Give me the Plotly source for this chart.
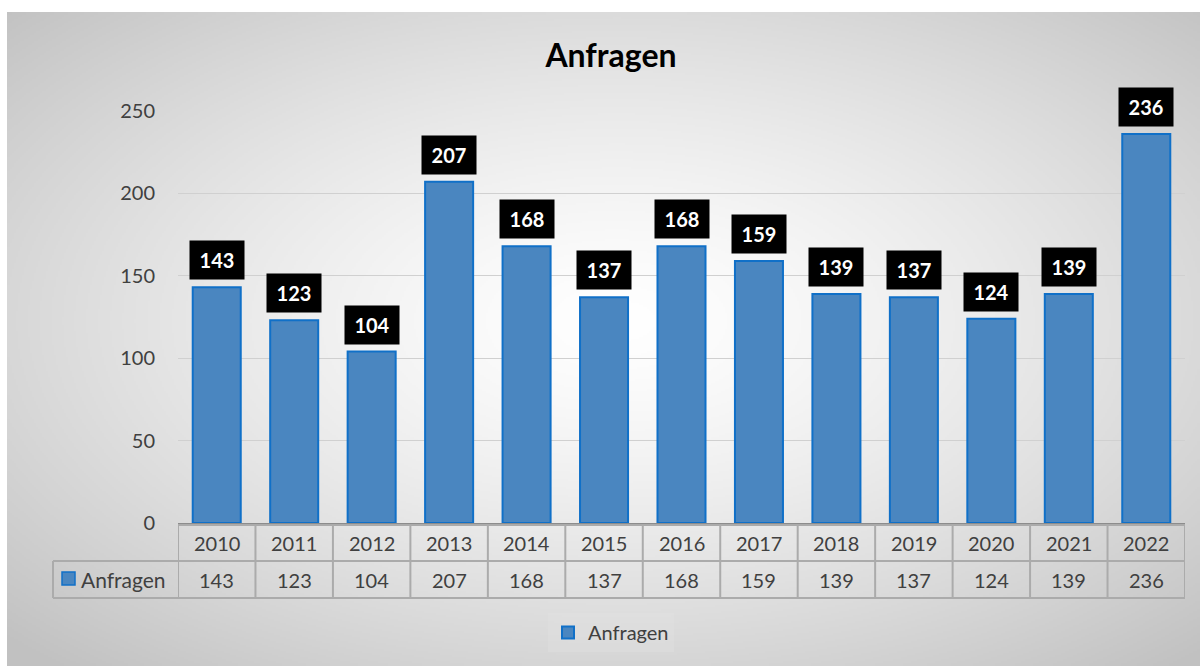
import base64
import struct
import zlib

import numpy as np
import plotly.graph_objects as go

# ---------------- data ----------------
categories = ["2010", "2011", "2012", "2013", "2014", "2015", "2016",
              "2017", "2018", "2019", "2020", "2021", "2022"]
values = [143, 123, 104, 207, 168, 137, 168, 159, 139, 137, 124, 139, 236]
series_name = "Anfragen"
title_text = "Anfragen"
y_ticks = [0, 50, 100, 150, 200, 250]

# ---------------- geometry (pixels) ----------------
W, H = 1200, 666
L, R = 178, 1185          # plot area left/right
T, B = 111, 523           # plot area top/bottom
PW, PH = R - L, B - T


def px_x(p):
    return (p - L) / PW


def px_y(p):
    return (B - p) / PH


# ---------------- radial gradient background as PNG ----------------
bx0, by0 = 7, 12
bw, bh = W - bx0, H - by0
sw, sh = bw // 2, bh // 2
yy, xx = np.mgrid[0:sh, 0:sw].astype(float)
cx, cy = (615 - bx0) / 2, (320 - by0) / 2
d = np.sqrt(((xx - cx) / (sw / 2)) ** 2 + ((yy - cy) / (sh / 2)) ** 2)
d = np.clip(d / 1.42, 0, 1)
shade = 255 - 62 * d ** 1.35
img = np.clip(shade, 0, 255).astype(np.uint8)
raw = b"".join(b"\x00" + img[i].tobytes() for i in range(sh))


def chunk(tag, data):
    c = struct.pack(">I", len(data)) + tag + data
    return c + struct.pack(">I", zlib.crc32(tag + data) & 0xFFFFFFFF)


png = (b"\x89PNG\r\n\x1a\n"
       + chunk(b"IHDR", struct.pack(">IIBBBBB", sw, sh, 8, 0, 0, 0, 0))
       + chunk(b"IDAT", zlib.compress(raw, 9))
       + chunk(b"IEND", b""))
bg_uri = "data:image/png;base64," + base64.b64encode(png).decode()

FONT = "Lato"
TXT = "#404040"
BAR_FILL = "rgb(74,134,192)"
BAR_LINE = "rgb(16,112,200)"
GRID = "#d0d0d0"
TABLE_LINE = "#ababab"

fig = go.Figure()
fig.add_trace(go.Bar(
    x=categories, y=values, name=series_name, width=0.62,
    marker=dict(color=BAR_FILL, line=dict(color=BAR_LINE, width=2)),
    showlegend=True,
))

annotations = []
# data labels (x given as category index)
for i, v in enumerate(values):
    annotations.append(dict(
        x=i, y=v, xref="x", yref="y", text=f"<b>{v}</b>", showarrow=False,
        yanchor="bottom", yshift=7, bgcolor="black", width=52, height=36,
        borderpad=1, font=dict(family=FONT, size=20, color="white"),
    ))

# data table
row1_top, row1_bot, row2_bot = px_y(525), px_y(561), px_y(598)
row1_mid = (row1_top + row1_bot) / 2
row2_mid = (row1_bot + row2_bot) / 2
for i, (c, v) in enumerate(zip(categories, values)):
    annotations.append(dict(x=i, y=row1_mid, xref="x", yref="paper", text=c,
                            showarrow=False, yanchor="middle",
                            font=dict(family=FONT, size=20, color=TXT)))
    annotations.append(dict(x=i, y=row2_mid, xref="x", yref="paper", text=str(v),
                            showarrow=False, yanchor="middle",
                            font=dict(family=FONT, size=20, color=TXT)))
annotations.append(dict(x=px_x(79), y=row2_mid, xref="paper", yref="paper",
                        text=series_name, showarrow=False, xanchor="left",
                        yanchor="middle", font=dict(family=FONT, size=21, color=TXT)))

shapes = []
n = len(categories)
for i in range(n + 1):
    shapes.append(dict(type="line", xref="x", yref="paper", x0=i - 0.5, x1=i - 0.5,
                       y0=row1_top, y1=row2_bot,
                       line=dict(color=TABLE_LINE, width=2)))
shapes.append(dict(type="line", xref="paper", yref="paper", x0=0, x1=1,
                   y0=row1_top, y1=row1_top, line=dict(color=TABLE_LINE, width=2)))
for yv in (row1_bot, row2_bot):
    shapes.append(dict(type="line", xref="paper", yref="paper", x0=px_x(53), x1=1,
                       y0=yv, y1=yv, line=dict(color=TABLE_LINE, width=2)))
shapes.append(dict(type="line", xref="paper", yref="paper", x0=px_x(53), x1=px_x(53),
                   y0=row1_bot, y1=row2_bot, line=dict(color=TABLE_LINE, width=2)))
# legend key inside the table
shapes.append(dict(type="rect", xref="paper", yref="paper",
                   x0=px_x(62), x1=px_x(75), y0=px_y(585), y1=px_y(572),
                   fillcolor=BAR_FILL, line=dict(color=BAR_LINE, width=1.5)))

fig.update_layout(
    width=W, height=H,
    margin=dict(l=L, r=W - R, t=T, b=H - B, pad=0),
    paper_bgcolor="white", plot_bgcolor="rgba(0,0,0,0)",
    font=dict(family=FONT, color=TXT),
    title=dict(text=f"<b>{title_text}</b>", x=611 / W, xanchor="center",
               y=1 - 56 / H, yanchor="middle", yref="container",
               font=dict(family=FONT, size=32, color="black")),
    images=[dict(source=bg_uri, xref="paper", yref="paper",
                 x=px_x(bx0), y=px_y(by0), sizex=bw / PW, sizey=bh / PH,
                 xanchor="left", yanchor="top", sizing="stretch", layer="below")],
    xaxis=dict(type="category", showticklabels=False, showgrid=False,
               showline=True, linecolor="#8c8c8c", linewidth=3, ticks="",
               range=[-0.5, n - 0.5], zeroline=False),
    yaxis=dict(range=[0, 250], tickvals=y_ticks, showgrid=True, gridcolor=GRID,
               gridwidth=1, zeroline=False, showline=False, ticks="",
               ticklabelstandoff=22,
               tickfont=dict(family=FONT, size=20, color=TXT)),
    legend=dict(orientation="h", x=px_x(611), xanchor="center", y=px_y(613),
                yanchor="top", bgcolor="rgba(225,225,225,0.35)",
                font=dict(family=FONT, size=20, color=TXT),
                itemclick=False),
    annotations=annotations, shapes=shapes,
    showlegend=True,
)

fig.write_html("out.html", config={"displayModeBar": False},
               post_script="document.body.style.margin='0';"
                           "document.body.style.overflow='hidden';")
